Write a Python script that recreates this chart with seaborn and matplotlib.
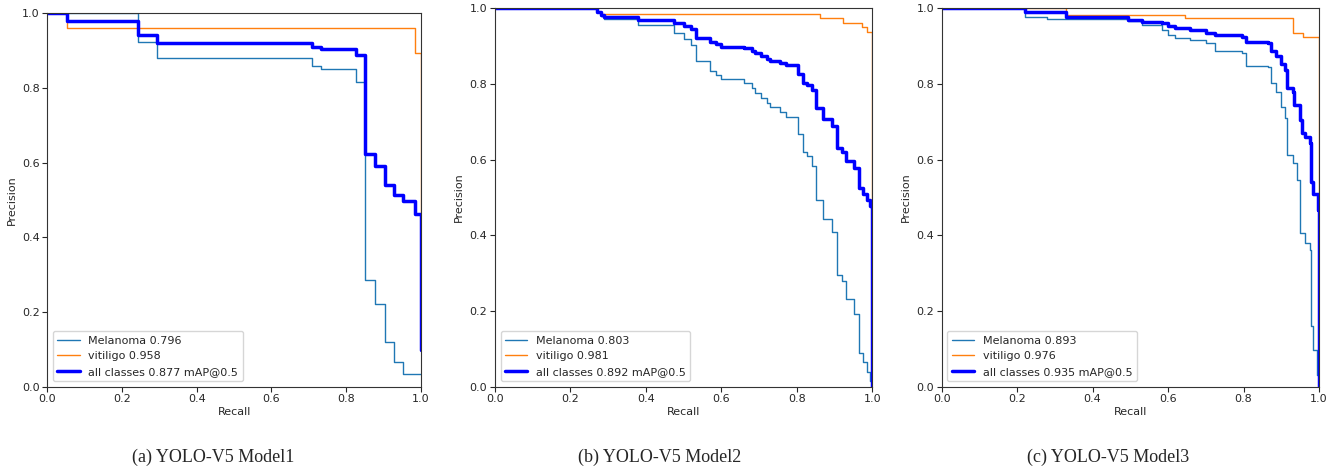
import numpy as np
import pandas as pd
import seaborn as sns
import matplotlib.pyplot as plt

sns.set_style('ticks')
plt.rcParams['font.family'] = ['DejaVu Sans']

# ---- (a) Model1 : step curves (recall where the level starts, precision) ----
a_mel_r = [0.0, 0.242, 0.293, 0.709, 0.732, 0.826, 0.851, 0.878, 0.903, 0.928, 0.951, 1.0]
a_mel_p = [1.0, 0.924, 0.879, 0.859, 0.851, 0.815, 0.286, 0.222, 0.119, 0.067, 0.034, 0.034]
a_vit_r = [0.0, 0.053, 0.984, 0.999, 1.0]
a_vit_p = [1.0, 0.961, 0.893, 0.893, 0.462]
a_all_r = [0.0, 0.053, 0.242, 0.293, 0.709, 0.732, 0.826, 0.851, 0.878, 0.903, 0.928, 0.951, 0.984, 0.999, 1.0]
a_all_p = [1.0, 0.980, 0.943, 0.921, 0.910, 0.904, 0.888, 0.623, 0.592, 0.539, 0.513, 0.498, 0.462, 0.462, 0.098]

# ---- (b) Model2 ----
b_mel_r = [0.0, 0.27, 0.28, 0.29, 0.38, 0.475, 0.50, 0.52, 0.534, 0.569, 0.585, 0.60, 0.66, 0.68,
           0.69, 0.705, 0.72, 0.73, 0.755, 0.77, 0.802, 0.815, 0.826, 0.839, 0.85, 0.87, 0.892,
           0.907, 0.919, 0.93, 0.952, 0.965, 0.975, 0.985, 0.995, 1.0]
b_mel_p = [1.0, 0.99, 0.98, 0.971, 0.955, 0.936, 0.919, 0.903, 0.861, 0.835, 0.824, 0.813, 0.802, 0.789,
           0.777, 0.763, 0.749, 0.740, 0.727, 0.714, 0.667, 0.619, 0.611, 0.584, 0.493, 0.442, 0.41,
           0.295, 0.28, 0.233, 0.192, 0.09, 0.065, 0.04, 0.015, 0.005]
b_vit_r = [0.0, 0.27, 0.28, 0.861, 0.923, 0.972, 0.987, 0.999, 1.0]
b_vit_p = [1.0, 0.99, 0.985, 0.974, 0.962, 0.95, 0.937, 0.937, 0.47]
b_all_r = [0.0, 0.27, 0.28, 0.29, 0.38, 0.475, 0.50, 0.52, 0.534, 0.569, 0.585, 0.60, 0.66, 0.68,
           0.69, 0.705, 0.72, 0.73, 0.755, 0.77, 0.802, 0.815, 0.826, 0.839, 0.85, 0.87, 0.892,
           0.907, 0.919, 0.93, 0.952, 0.965, 0.975, 0.985, 0.995, 1.0]
b_all_p = [1.0, 0.99, 0.983, 0.978, 0.970, 0.960, 0.952, 0.944, 0.922, 0.910, 0.905, 0.899, 0.894, 0.887,
           0.881, 0.874, 0.867, 0.862, 0.856, 0.849, 0.826, 0.802, 0.798, 0.785, 0.737, 0.708, 0.69,
           0.632, 0.621, 0.597, 0.577, 0.525, 0.508, 0.493, 0.478, 0.0]

# ---- (c) Model3 ----
c_mel_r = [0.0, 0.221, 0.28, 0.495, 0.53, 0.583, 0.60, 0.618, 0.658, 0.70, 0.724, 0.795, 0.806,
           0.866, 0.873, 0.885, 0.899, 0.91, 0.915, 0.93, 0.941, 0.95, 0.963, 0.976, 0.979, 0.985, 0.995, 1.0]
c_mel_p = [1.0, 0.978, 0.972, 0.966, 0.956, 0.943, 0.93, 0.922, 0.916, 0.907, 0.888, 0.881, 0.848,
           0.846, 0.802, 0.78, 0.74, 0.709, 0.612, 0.59, 0.546, 0.405, 0.379, 0.361, 0.16, 0.097, 0.03, 0.0]
c_vit_r = [0.0, 0.33, 0.645, 0.932, 0.958, 0.999, 1.0]
c_vit_p = [1.0, 0.981, 0.974, 0.934, 0.925, 0.925, 0.47]
c_all_r = [0.0, 0.221, 0.33, 0.495, 0.53, 0.583, 0.60, 0.618, 0.658, 0.70, 0.724, 0.795, 0.806,
           0.866, 0.873, 0.885, 0.899, 0.91, 0.915, 0.932, 0.935, 0.95, 0.955, 0.963, 0.976, 0.979,
           0.985, 0.998, 1.0]
c_all_p = [1.0, 0.989, 0.978, 0.970, 0.965, 0.960, 0.952, 0.948, 0.942, 0.936, 0.929, 0.925, 0.912,
           0.908, 0.888, 0.875, 0.852, 0.838, 0.79, 0.78, 0.744, 0.705, 0.67, 0.66, 0.643, 0.542,
           0.51, 0.467, 0.0]

mel_ap = ['0.796', '0.803', '0.893']
vit_ap = ['0.958', '0.981', '0.976']
all_map = ['0.877', '0.892', '0.935']
captions = ['(a) YOLO-V5 Model1', '(b) YOLO-V5 Model2', '(c) YOLO-V5 Model3']

panels = [
    (a_mel_r, a_mel_p, a_vit_r, a_vit_p, a_all_r, a_all_p),
    (b_mel_r, b_mel_p, b_vit_r, b_vit_p, b_all_r, b_all_p),
    (c_mel_r, c_mel_p, c_vit_r, c_vit_p, c_all_r, c_all_p),
]

fig = plt.figure(figsize=(13.41, 4.72), dpi=100)
boxes = [[0.0353, 0.1807, 0.2786, 0.7911],
         [0.3691, 0.1807, 0.2814, 0.8017],
         [0.7022, 0.1807, 0.2814, 0.8017]]
cap_x = [0.159, 0.492, 0.826]

for i, (mr, mp, vr, vp, ar, ap) in enumerate(panels):
    ax = fig.add_axes(boxes[i])
    sns.lineplot(x=mr, y=mp, ax=ax, sort=False, estimator=None, drawstyle='steps-post',
                 color='#1f77b4', linewidth=1, label='Melanoma ' + mel_ap[i])
    sns.lineplot(x=vr, y=vp, ax=ax, sort=False, estimator=None, drawstyle='steps-post',
                 color='#ff7f0e', linewidth=1, label='vitiligo ' + vit_ap[i])
    sns.lineplot(x=ar, y=ap, ax=ax, sort=False, estimator=None, drawstyle='steps-post',
                 color='blue', linewidth=2.5, label='all classes %s mAP@0.5' % all_map[i])
    ax.set_xlim(0, 1)
    ax.set_ylim(0, 1)
    ax.set_xlabel('Recall', fontsize=8, labelpad=2)
    ax.set_ylabel('Precision', fontsize=8, labelpad=4)
    ax.tick_params(labelsize=8, length=3.5, width=0.8, pad=2)
    for s in ax.spines.values():
        s.set_linewidth(0.8)
        s.set_color('#333333')
    ax.legend(loc='lower left', fontsize=8)
    fig.text(cap_x[i], 0.032, captions[i], ha='center', va='center',
             fontsize=13, family=['Liberation Serif'])

fig.savefig('out.png', dpi=100)
